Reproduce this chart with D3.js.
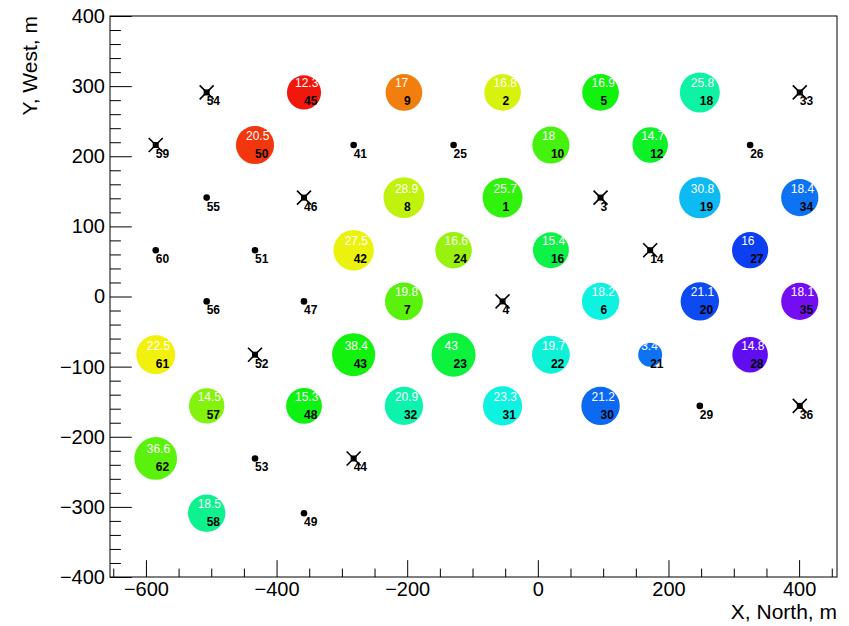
<!DOCTYPE html>
<html>
<head>
<meta charset="utf-8">
<script src="https://cdn.jsdelivr.net/npm/d3@7"></script>
<style>
  body { margin: 0; background: #fff; }
  svg { display: block; }
  text { font-family: "Liberation Sans", Arial, Helvetica, sans-serif; }
</style>
</head>
<body>
<svg id="chart" width="849" height="626"></svg>
<script>
// ---- Detectors that fired: id, position (m), signal, arrival-time palette position (0 violet .. 1 red)
const hitIds    = [45, 9, 2, 5, 18, 50, 10, 12, 8, 1, 19, 34, 42, 24, 16, 27, 7, 6, 20, 35, 61, 43, 23, 22, 21, 28, 57, 48, 32, 31, 30, 62, 58];
const hitX      = [-358, -205, -54, 96, 248, -433, 20, 172, -205, -54, 248, 401, -282, -129, 20, 325, -205, 96, 248, 401, -585, -282, -129, 20, 172, 325, -507, -358, -205, -54, 96, -585, -507];
const hitY      = [291, 291, 291, 291, 291, 216, 216, 216, 141, 141, 141, 141, 66, 66, 66, 66, -7, -7, -7, -7, -83, -83, -83, -83, -83, -83, -156, -156, -156, -156, -156, -231, -309];
const hitSignal = [12.3, 17, 16.8, 16.9, 25.8, 20.5, 18, 14.7, 28.9, 25.7, 30.8, 18.4, 27.5, 16.6, 15.4, 16, 19.8, 18.2, 21.1, 18.1, 22.5, 38.4, 43, 19.7, 3.4, 14.8, 14.5, 15.3, 20.9, 23.3, 21.2, 36.6, 18.5];
const hitTiming = [0.99, 0.89, 0.75, 0.56, 0.41, 0.96, 0.61, 0.53, 0.73, 0.59, 0.28, 0.21, 0.77, 0.69, 0.50, 0.16, 0.63, 0.35, 0.17, 0.01, 0.78, 0.56, 0.51, 0.36, 0.21, 0.03, 0.67, 0.55, 0.40, 0.35, 0.20, 0.63, 0.43];

// ---- Detectors without signal
const silentIds = [41, 25, 26, 55, 60, 51, 56, 47, 29, 53, 49];
const silentX   = [-282, -129, 325, -507, -585, -433, -507, -358, 248, -433, -358];
const silentY   = [216, 216, 216, 141, 66, 66, -7, -7, -156, -231, -309];

// ---- Detectors switched off
const offIds = [54, 33, 59, 46, 3, 14, 4, 52, 36, 44];
const offX   = [-507, 401, -585, -358, 96, 172, -54, -433, 401, -282];
const offY   = [291, 291, 216, 141, 141, 66, -7, -83, -156, -231];

// ---- Axes
const xMajorTicks = [-600, -400, -200, 0, 200, 400];
const yMajorTicks = [-400, -300, -200, -100, 0, 100, 200, 300, 400];
const xDomain = [-655, 458];
const yDomain = [-400, 400];
const xTitle = "X, North, m";
const yTitle = "Y, West, m";

const frame = { left: 110, right: 837, top: 16, bottom: 577 };

const svg = d3.select("#chart");

const x = d3.scaleLinear().domain(xDomain).range([frame.left, frame.right]);
const y = d3.scaleLinear().domain(yDomain).range([frame.bottom, frame.top]);
const r = d3.scaleLog().domain([3.4, 43]).range([12, 22]);
const hue = d3.scaleLinear().domain([0, 1]).range([270, 0]);
const colour = t => d3.hsl(hue(t), 0.9, 0.5).formatHex();

const fmtTick = d3.format("");

// minor ticks
const xMinor = d3.range(-650, 451, 50).filter(v => !xMajorTicks.includes(v));
const yMinor = d3.range(-400, 401, 20).filter(v => !yMajorTicks.includes(v));

const xLen = frame.right - frame.left, yLen = frame.bottom - frame.top;

const gx = svg.append("g").attr("transform", `translate(0,${frame.bottom})`);
gx.call(d3.axisBottom(x).tickValues(xMajorTicks).tickSize(-0.03 * yLen).tickPadding(5).tickFormat(fmtTick));
gx.append("g").call(d3.axisBottom(x).tickValues(xMinor).tickSize(-0.015 * yLen).tickFormat(""));

const gy = svg.append("g").attr("transform", `translate(${frame.left},0)`);
gy.call(d3.axisLeft(y).tickValues(yMajorTicks).tickSize(-0.03 * xLen).tickPadding(5).tickFormat(fmtTick));
gy.append("g").call(d3.axisLeft(y).tickValues(yMinor).tickSize(-0.015 * xLen).tickFormat(""));

svg.selectAll(".domain").remove();
svg.selectAll(".tick line").attr("stroke", "#000").attr("stroke-width", 1);
svg.selectAll(".tick text").attr("fill", "#000").style("font-size", "20px")
   .style("font-family", '"Liberation Sans", Arial, Helvetica, sans-serif');

svg.append("rect")
  .attr("x", frame.left).attr("y", frame.top)
  .attr("width", xLen).attr("height", yLen)
  .attr("fill", "none").attr("stroke", "#000").attr("stroke-width", 1);

// axis titles
svg.append("text")
  .attr("x", frame.right).attr("y", 619)
  .attr("text-anchor", "end").style("font-size", "21px").text(xTitle);
svg.append("text")
  .attr("transform", `translate(37,${frame.top}) rotate(-90)`)
  .attr("text-anchor", "end").style("font-size", "21px").text(yTitle);

// ---- markers
const hits = hitIds.map((id, i) => ({ id, x: hitX[i], y: hitY[i], s: hitSignal[i], t: hitTiming[i] }));
const silent = silentIds.map((id, i) => ({ id, x: silentX[i], y: silentY[i] }));
const off = offIds.map((id, i) => ({ id, x: offX[i], y: offY[i] }));

const gm = svg.append("g");

gm.selectAll("circle.hit").data(hits).join("circle")
  .attr("class", "hit")
  .attr("cx", d => x(d.x)).attr("cy", d => y(d.y))
  .attr("r", d => r(d.s))
  .attr("fill", d => colour(d.t));

gm.selectAll("circle.silent").data(silent).join("circle")
  .attr("class", "silent")
  .attr("cx", d => x(d.x)).attr("cy", d => y(d.y))
  .attr("r", 3.3).attr("fill", "#000");

const cross = gm.selectAll("g.off").data(off).join("g")
  .attr("class", "off")
  .attr("transform", d => `translate(${x(d.x)},${y(d.y)})`);
cross.append("path").attr("d", "M-7,-7L7,7M-7,7L7,-7")
  .attr("stroke", "#000").attr("stroke-width", 1.6);
cross.append("rect").attr("x", -3).attr("y", -3).attr("width", 6).attr("height", 6).attr("fill", "#000");

// ---- labels: signal (white) above, detector id (black) below
gm.selectAll("text.sig").data(hits).join("text")
  .attr("class", "sig")
  .attr("x", d => x(d.x) - 9).attr("y", d => y(d.y) - 5)
  .attr("fill", "#fff").style("font-size", "12px")
  .text(d => d.s);

const allIds = [...hits, ...silent, ...off];
gm.selectAll("text.id").data(allIds).join("text")
  .attr("class", "id")
  .attr("x", d => x(d.x)).attr("y", d => y(d.y) + 13)
  .attr("fill", "#000").style("font-size", "12px").style("font-weight", "bold")
  .text(d => d.id);
</script>
</body>
</html>
